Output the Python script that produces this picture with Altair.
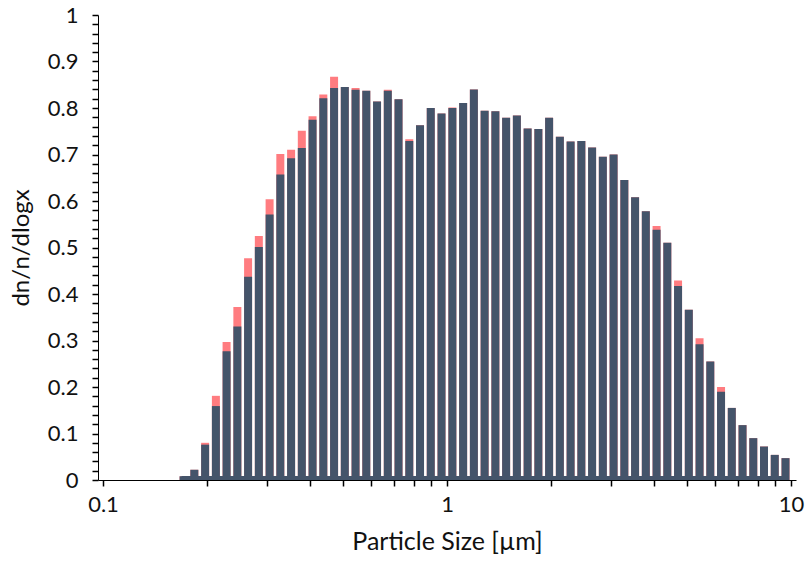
import altair as alt
import pandas as pd

# Bin centres (µm), 32 bins per decade
sizes = [0.1715, 0.1843, 0.1981, 0.2129, 0.2287, 0.2458, 0.2641, 0.2838, 0.3050, 0.3277,
         0.3522, 0.3784, 0.4066, 0.4370, 0.4696, 0.5046, 0.5422, 0.5826, 0.6261, 0.6728,
         0.7229, 0.7769, 0.8348, 0.8970, 0.9639, 1.0366, 1.1140, 1.1971, 1.2864, 1.3824,
         1.4855, 1.5963, 1.7154, 1.8433, 1.9808, 2.1285, 2.2872, 2.4578, 2.6411, 2.8380,
         3.0497, 3.2773, 3.5216, 3.7842, 4.0664, 4.3696, 4.6955, 5.0457, 5.4219, 5.8263,
         6.2608, 6.7277, 7.2294, 7.7685, 8.3478, 8.9703, 9.6393]

# Front series (dark slate)
dark = [0.008, 0.022, 0.076, 0.159, 0.277, 0.330, 0.437, 0.501, 0.571, 0.657,
        0.692, 0.714, 0.775, 0.821, 0.843, 0.845, 0.839, 0.837, 0.814, 0.837,
        0.819, 0.729, 0.763, 0.800, 0.788, 0.800, 0.811, 0.840, 0.794, 0.793,
        0.779, 0.784, 0.756, 0.755, 0.779, 0.738, 0.728, 0.729, 0.715, 0.695,
        0.700, 0.645, 0.608, 0.578, 0.538, 0.510, 0.417, 0.366, 0.292, 0.255,
        0.190, 0.155, 0.118, 0.090, 0.072, 0.054, 0.047]

# Back series (light red)
pink = [0.008, 0.022, 0.080, 0.181, 0.297, 0.372, 0.477, 0.525, 0.604, 0.701,
        0.710, 0.751, 0.782, 0.829, 0.867, 0.845, 0.843, 0.837, 0.814, 0.839,
        0.819, 0.733, 0.763, 0.800, 0.788, 0.801, 0.811, 0.840, 0.794, 0.793,
        0.779, 0.784, 0.756, 0.755, 0.779, 0.738, 0.728, 0.729, 0.715, 0.695,
        0.700, 0.645, 0.608, 0.578, 0.546, 0.510, 0.429, 0.366, 0.305, 0.255,
        0.200, 0.155, 0.118, 0.090, 0.072, 0.054, 0.047]

x_ticks = [0.1, 0.2, 0.3, 0.4, 0.5, 0.6, 0.7, 0.8, 0.9,
           1, 2, 3, 4, 5, 6, 7, 8, 9, 10]
y_ticks = [round(i * 0.02, 2) for i in range(51)]

df = pd.DataFrame({"size": sizes, "dark": dark, "pink": pink})

FONT = "Lato"
TXT = "#111111"
SLATE = "#44546A"
PINK = "#FF7C80"

X_MAJOR = "datum.value == 0.1 || datum.value == 1 || datum.value == 10"
Y_MAJOR = "abs(round(datum.value * 10) - datum.value * 10) < 0.000001"

x_axis = alt.Axis(
    values=x_ticks,
    tickCount=500,
    format="~g",
    labelExpr=f"({X_MAJOR}) ? datum.label : ''",
    tickSize=6,
    labelOverlap=False,
    title="Particle Size [µm]",
    grid=False,
    domainColor="black",
    tickColor="black",
    tickWidth=1.5,
    labelFont=FONT,
    labelFontSize=22,
    labelColor=TXT,
    labelPadding=8,
    labelFlush=False,
    titleFont=FONT,
    titleFontSize=25,
    titleFontWeight="normal",
    titleColor=TXT,
    titlePadding=14,
)

y_axis = alt.Axis(
    values=y_ticks,
    tickCount=500,
    format="~g",
    labelExpr=f"({Y_MAJOR}) ? datum.label : ''",
    tickSize=6,
    labelOverlap=False,
    title="dn/n/dlogx",
    grid=False,
    domainColor="black",
    tickColor="black",
    tickWidth=1.5,
    labelFont=FONT,
    labelFontSize=22,
    labelColor=TXT,
    labelPadding=14,
    labelFlush=False,
    titleFont=FONT,
    titleFontSize=24,
    titleFontWeight="normal",
    titleColor=TXT,
    titlePadding=14,
)

xs = alt.Scale(type="log", domain=[0.1, 10], nice=False)
ys = alt.Scale(domain=[0, 1], nice=False)

base = alt.Chart(df)

pink_bars = base.mark_bar(width=8, color=PINK, orient="vertical").encode(
    x=alt.X("size:Q", scale=xs, axis=x_axis),
    y=alt.Y("pink:Q", scale=ys, axis=y_axis),
)

dark_bars = base.mark_bar(width=8, color=SLATE, orient="vertical").encode(
    x=alt.X("size:Q", scale=xs),
    y=alt.Y("dark:Q", scale=ys),
)

strip = base.mark_rule(color=SLATE, strokeWidth=4, yOffset=-2, strokeCap="square").encode(
    x=alt.X("min(size):Q", scale=xs),
    x2="max(size):Q",
    y=alt.datum(0),
)

chart = (
    alt.layer(pink_bars, dark_bars, strip)
    .properties(
        width=698,
        height=465,
        autosize=alt.AutoSizeParams(type="none"),
        padding={"left": 98, "top": 15, "right": 13, "bottom": 87},
        background="white",
    )
    .configure_view(stroke=None)
)

chart.save("out.html", embed_options={"renderer": "svg", "actions": False})
